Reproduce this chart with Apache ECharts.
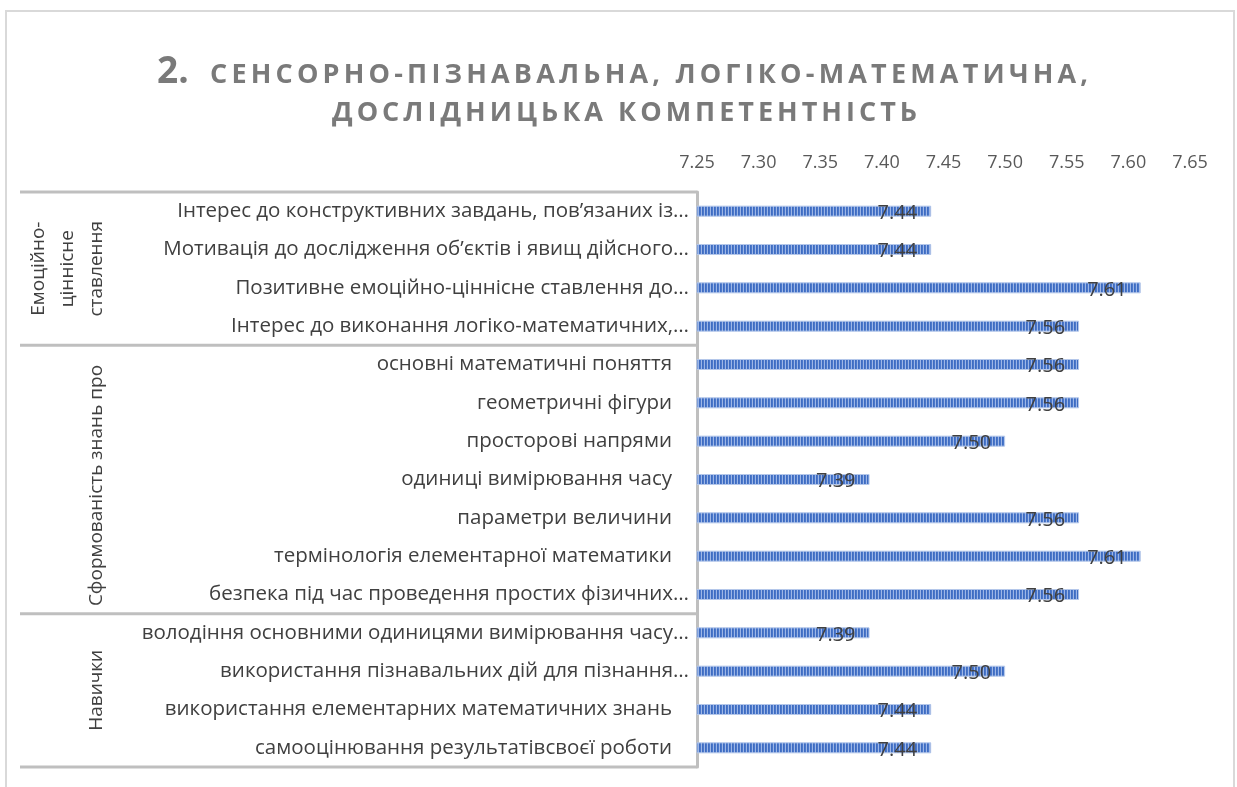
<!DOCTYPE html>
<html>
<head>
<meta charset="utf-8">
<script src="https://cdn.jsdelivr.net/npm/echarts@6/dist/echarts.min.js"></script>
<style>html,body{margin:0;padding:0;background:#fff}#c{width:1237px;height:787px}</style>
</head>
<body>
<div id="c"></div>
<script>
const categories = [
  'Інтерес до конструктивних завдань, пов’язаних із…',
  'Мотивація до дослідження об’єктів і явищ дійсного…',
  'Позитивне емоційно-ціннісне ставлення до…',
  'Інтерес до виконання логіко-математичних,…',
  'основні математичні поняття',
  'геометричні фігури',
  'просторові напрями',
  'одиниці вимірювання часу',
  'параметри величини',
  'термінологія елементарної математики',
  'безпека під час проведення простих фізичних…',
  'володіння основними одиницями вимірювання часу…',
  'використання пізнавальних дій для пізнання…',
  'використання елементарних математичних знань',
  'самооцінювання результатівсвоєї роботи'
];
const values = [7.44, 7.44, 7.61, 7.56, 7.56, 7.56, 7.50, 7.39, 7.56, 7.61, 7.56, 7.39, 7.50, 7.44, 7.44];
const groups = ['Емоційно-\nціннісне\nставлення', 'Сформованість знань про', 'Навички'];
const groupSizes = [4, 7, 4];
const axisTicks = [7.25, 7.30, 7.35, 7.40, 7.45, 7.50, 7.55, 7.60, 7.65];
const titleNum = '2.';
const titleLine1 = 'СЕНСОРНО-ПІЗНАВАЛЬНА, ЛОГІКО-МАТЕМАТИЧНА,';
const titleLine2 = 'ДОСЛІДНИЦЬКА КОМПЕТЕНТНІСТЬ';

const W = 1237, H = 787;
const gridLeft = 697, gridRight = 47, gridTop = 192, gridBottom = 20;
const FONT = '"Open Sans", "Noto Sans", sans-serif';
const TITLE_FS = 27;

// letter-spaced title (canvas letterSpacing applied only to title strings)
const mctx = document.createElement('canvas').getContext('2d');
mctx.font = 'bold ' + TITLE_FS + 'px ' + FONT;
const t1Left = 205, t1Right = 1083, t2Left = 327, t2Right = 912;
const sp1 = (t1Right - t1Left - mctx.measureText(titleLine1).width) / (titleLine1.length - 1);
const sp2 = (t2Right - t2Left - mctx.measureText(titleLine2).width) / (titleLine2.length - 1);
const SPACED = {};
SPACED[titleLine1] = sp1;
SPACED[titleLine2] = sp2;
const origFill = CanvasRenderingContext2D.prototype.fillText;
CanvasRenderingContext2D.prototype.fillText = function (t, x, y, mw) {
  const sp = SPACED[t];
  if (sp != null && 'letterSpacing' in this) {
    const prev = this.letterSpacing;
    this.letterSpacing = sp.toFixed(2) + 'px';
    const r = mw === undefined ? origFill.call(this, t, x, y) : origFill.call(this, t, x, y, mw);
    this.letterSpacing = prev;
    return r;
  }
  return origFill.apply(this, arguments);
};

// striped pattern for bars
const pc = document.createElement('canvas');
pc.width = 3; pc.height = 4;
const pctx = pc.getContext('2d');
pctx.fillStyle = '#4a78cc'; pctx.fillRect(0, 0, 3, 4);
pctx.fillStyle = '#3f6cc0'; pctx.fillRect(0, 0, 1, 4);
pctx.fillStyle = '#9db6e6'; pctx.fillRect(2, 0, 1, 4);

const chart = echarts.init(document.getElementById('c'), null, {renderer: 'canvas'});

const plotH = H - gridTop - gridBottom;
const band = plotH / categories.length;
const graphics = [];
// outer border
graphics.push({type: 'rect', shape: {x: 6, y: 11, width: 1228, height: 800}, style: {fill: 'none', stroke: '#d9d9d9', lineWidth: 2}, silent: true});
// separators and group labels
let idx = 0;
const sepYs = [gridTop];
groupSizes.forEach((n, g) => {
  const y0 = gridTop + idx * band;
  const y1 = gridTop + (idx + n) * band;
  sepYs.push(y1);
  const lines = groups[g].split('\n').length;
  const cx = 97 - (lines - 1) * 29 / 2;
  graphics.push({
    type: 'text', x: cx, y: (y0 + y1) / 2 + (g === 1 ? 6 : 0), rotation: Math.PI / 2,
    style: {text: groups[g], fill: '#404040', font: '19px ' + FONT, align: 'center', verticalAlign: 'middle', lineHeight: 29},
    silent: true
  });
  idx += n;
});
sepYs.forEach(y => {
  graphics.push({type: 'line', shape: {x1: 20, y1: y, x2: gridLeft, y2: y}, style: {stroke: '#bfbfbf', lineWidth: 3}, silent: true});
});

chart.setOption({
  backgroundColor: '#ffffff',
  animation: false,
  title: [
    {text: '{a|' + titleNum + '}{b|' + titleLine1 + '}', left: 152, top: 49,
      textStyle: {rich: {
        a: {fontSize: 37, fontWeight: 'bold', color: '#7a7a7a', fontFamily: FONT, width: t1Left - 152},
        b: {fontSize: TITLE_FS, fontWeight: 'bold', color: '#7a7a7a', fontFamily: FONT, padding: [6, 0, 0, 0]}
      }}},
    {text: titleLine2, left: t2Left, top: 95,
      textStyle: {fontSize: TITLE_FS, fontWeight: 'bold', color: '#7a7a7a', fontFamily: FONT}}
  ],
  grid: {left: gridLeft, right: gridRight, top: gridTop, bottom: gridBottom, containLabel: false},
  xAxis: {
    type: 'value', position: 'top', min: axisTicks[0], max: axisTicks[axisTicks.length - 1], interval: 0.05,
    axisLine: {show: false}, axisTick: {show: false}, splitLine: {show: false},
    axisLabel: {formatter: v => v.toFixed(2), color: '#595959', fontSize: 18, fontFamily: FONT, margin: 20}
  },
  yAxis: {
    type: 'category', inverse: true, data: categories,
    axisLine: {show: true, lineStyle: {color: '#bfbfbf', width: 3}},
    axisTick: {show: false},
    axisLabel: {
      color: '#404040', fontSize: 20.5, fontFamily: FONT, margin: 8,
      formatter: v => v.endsWith('…') ? '{e|' + v + '}' : '{n|' + v + '}',
      rich: {
        e: {color: '#404040', fontSize: 20.5, fontFamily: FONT},
        n: {color: '#404040', fontSize: 20.5, fontFamily: FONT, padding: [0, 17, 0, 0]}
      }
    }
  },
  series: [{
    type: 'bar', data: values, barWidth: 11,
    itemStyle: {color: {image: pc, repeat: 'repeat'}, borderColor: '#b4c7ea', borderWidth: 1},
    label: {show: true, position: 'insideRight', distance: 14, offset: [0, 2], formatter: p => p.value.toFixed(2), color: '#404040', fontSize: 20, fontFamily: FONT}
  }],
  graphic: graphics
});
</script>
</body>
</html>
